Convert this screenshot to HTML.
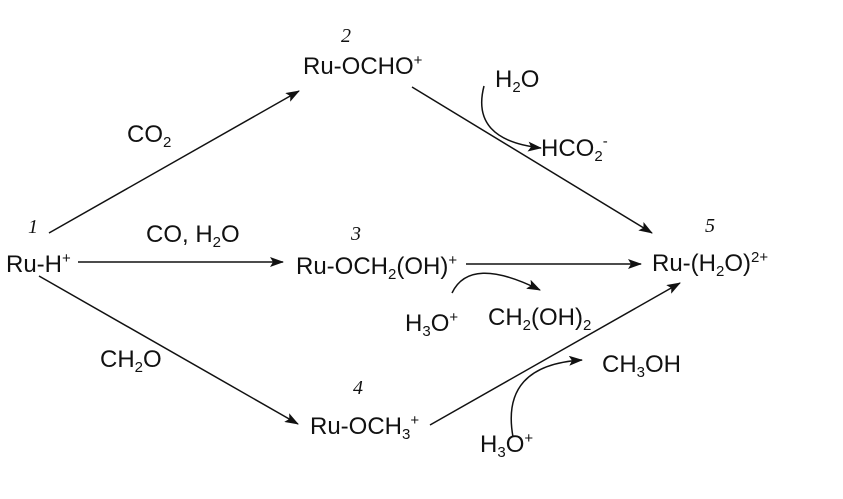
<!DOCTYPE html>
<html><head><meta charset="utf-8"><style>
html,body{margin:0;padding:0;background:#fff;}
svg{display:block;}
text{font-family:"Liberation Sans",Arial,sans-serif;font-size:24px;fill:#111;}
.n{font-family:"Liberation Serif",serif;font-style:italic;font-size:20px;}
.s{font-size:15px;}
</style></head><body>
<svg width="843" height="499" viewBox="0 0 843 499" xmlns="http://www.w3.org/2000/svg">
<defs>
<marker id="a" markerWidth="14" markerHeight="10" refX="13" refY="5" orient="auto" markerUnits="userSpaceOnUse">
<path d="M0,0 L14,5 L0,10 L3,5 Z" fill="#111"/></marker>
</defs>
<g stroke="#111" stroke-width="1.5" fill="none">
<line x1="49" y1="233" x2="299" y2="91" marker-end="url(#a)"/>
<line x1="412" y1="87" x2="652" y2="233" marker-end="url(#a)"/>
<line x1="78" y1="262" x2="283" y2="262" marker-end="url(#a)"/>
<line x1="466" y1="264" x2="641" y2="264" marker-end="url(#a)"/>
<line x1="39" y1="276" x2="298" y2="424" marker-end="url(#a)"/>
<line x1="430" y1="425" x2="680" y2="283" marker-end="url(#a)"/>
<path d="M484,86 Q470,140 541,148" marker-end="url(#a)"/>
<path d="M452,293 Q470,255 540,290" marker-end="url(#a)"/>
<path d="M513,437 Q500,365 582,360" marker-end="url(#a)"/>
</g>
<text class="n" x="341" y="42">2</text>
<text x="303" y="74">Ru-OCHO<tspan class="s" dy="-9">+</tspan></text>
<text x="495" y="87">H<tspan class="s" dy="5">2</tspan><tspan dy="-5">O</tspan></text>
<text x="541" y="156">HCO<tspan class="s" dy="5">2</tspan><tspan class="s" dy="-15">-</tspan></text>
<text x="127" y="142">CO<tspan class="s" dy="5">2</tspan></text>
<text class="n" x="28" y="233">1</text>
<text x="6" y="272">Ru-H<tspan class="s" dy="-9">+</tspan></text>
<text x="146" y="242">CO, H<tspan class="s" dy="5">2</tspan><tspan dy="-5">O</tspan></text>
<text class="n" x="351" y="240">3</text>
<text x="296" y="274">Ru-OCH<tspan class="s" dy="5">2</tspan><tspan dy="-5">(OH)</tspan><tspan class="s" dy="-9">+</tspan></text>
<text class="n" x="705" y="232">5</text>
<text x="652" y="271">Ru-(H<tspan class="s" dy="5">2</tspan><tspan dy="-5">O)</tspan><tspan class="s" dy="-9">2+</tspan></text>
<text x="405" y="331">H<tspan class="s" dy="5">3</tspan><tspan dy="-5">O</tspan><tspan class="s" dy="-9">+</tspan></text>
<text x="488" y="325">CH<tspan class="s" dy="5">2</tspan><tspan dy="-5">(OH)</tspan><tspan class="s" dy="5">2</tspan></text>
<text x="100" y="367">CH<tspan class="s" dy="5">2</tspan><tspan dy="-5">O</tspan></text>
<text class="n" x="353" y="394">4</text>
<text x="310" y="434">Ru-OCH<tspan class="s" dy="5">3</tspan><tspan class="s" dy="-14">+</tspan></text>
<text x="602" y="372">CH<tspan class="s" dy="5">3</tspan><tspan dy="-5">OH</tspan></text>
<text x="480" y="452">H<tspan class="s" dy="5">3</tspan><tspan dy="-5">O</tspan><tspan class="s" dy="-9">+</tspan></text>
</svg>
</body></html>
